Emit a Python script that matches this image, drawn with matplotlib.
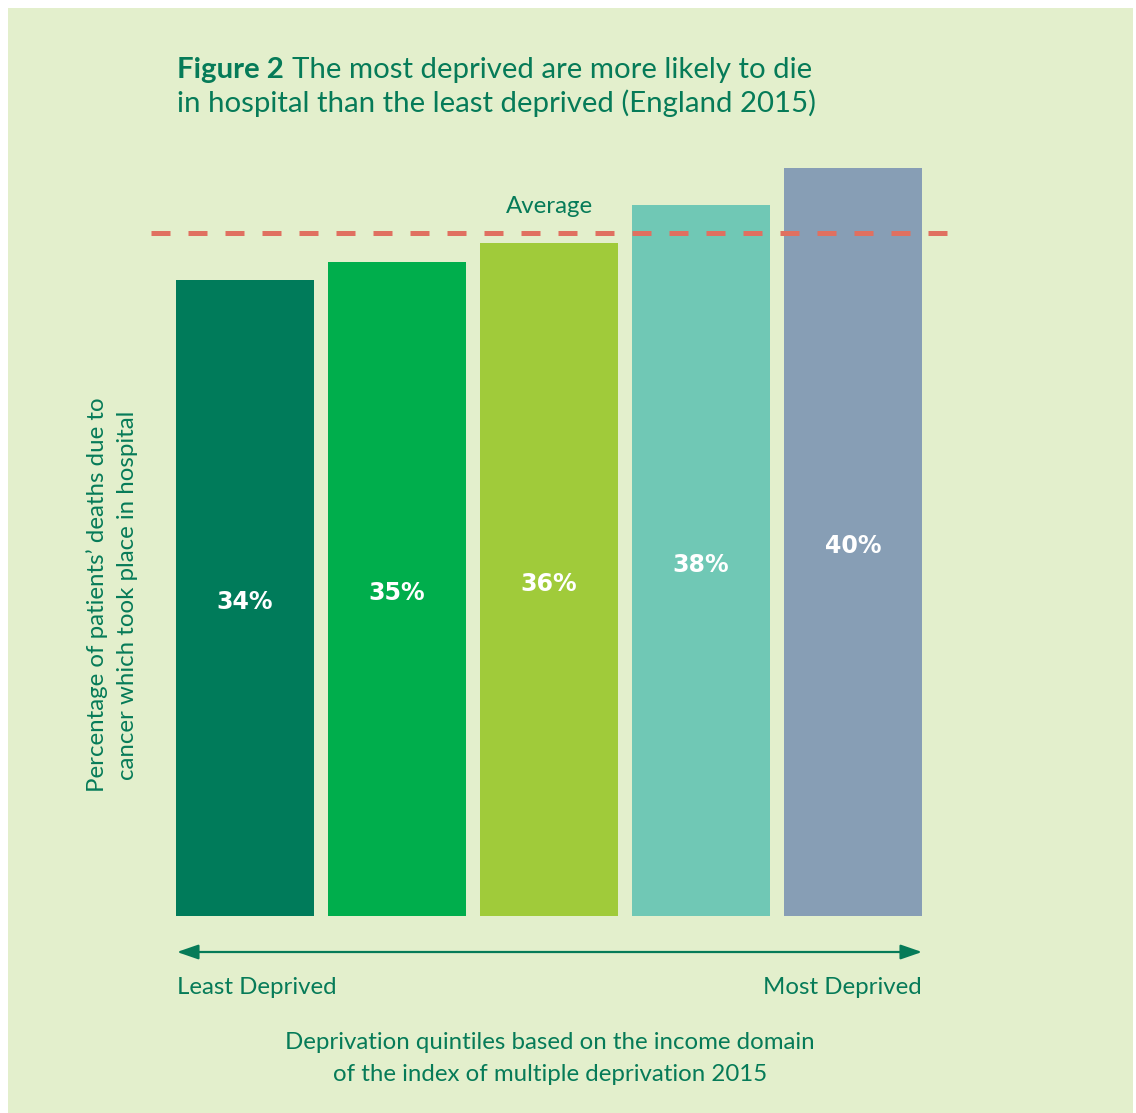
import matplotlib
matplotlib.use("Agg")
import matplotlib.pyplot as plt
from matplotlib.patches import Rectangle

# ---- data ----
quintiles = ["Q1", "Q2", "Q3", "Q4", "Q5"]
values = [34, 35, 36, 38, 40]
value_labels = ["34%", "35%", "36%", "38%", "40%"]
average = 36.5
bar_colors = ["#007B5A", "#00AE4C", "#A0CB3A", "#70C8B5", "#879EB5"]

W, H = 1136, 1113
DPI = 100
GREEN = "#067B58"
BG = "#E3EFCC"
FONT = "Lato"
FS = 17.3

fig = plt.figure(figsize=(W / DPI, H / DPI), dpi=DPI)
fig.patch.set_facecolor("white")

def fx(px):
    return px / W

def fy(py):
    return (H - py) / H

# background panel
bgp = Rectangle((fx(8), 0), fx(1133) - fx(8), fy(8), transform=fig.transFigure,
                facecolor=BG, edgecolor="none", zorder=-10)
fig.patches.append(bgp)

# axes in pixel frame
ax_left, ax_right, ax_bottom = 150, 950, 916
px_per_unit = 18.7
ymax = 42
ax_top = ax_bottom - ymax * px_per_unit
ax = fig.add_axes([fx(ax_left), fy(ax_bottom), fx(ax_right) - fx(ax_left), fy(ax_top) - fy(ax_bottom)])
ax.set_zorder(1)
ax.set_facecolor("none")
x0c, spacing = 245, 152
ax.set_xlim((ax_left - x0c) / spacing, (ax_right - x0c) / spacing)
ax.set_ylim(0, ymax)
ax.axis("off")

xs = list(range(len(quintiles)))
ax.bar(xs, values, width=138 / spacing, color=bar_colors, zorder=2)
for x, v, lab in zip(xs, values, value_labels):
    ax.annotate(lab, xy=(x, v / 2), xytext=(0, -3), textcoords="offset points",
                ha="center", va="center", color="white",
                fontsize=17, fontweight="bold", family="DejaVu Sans", zorder=4)

ax.plot([(151 - x0c) / spacing, (947 - x0c) / spacing], [average, average],
        color="#E07060", lw=3.6, linestyle=(0, (3.8, 3.6)), solid_capstyle="butt",
        dash_capstyle="butt", zorder=3, clip_on=False)
ax.text(2, average + 0.9, "Average", ha="center", va="bottom", color=GREEN,
        fontsize=FS, family=FONT)

# title
TS = 21.2
t1 = fig.text(fx(177), fy(78), "Figure 2", color=GREEN, fontsize=TS, fontweight="bold",
              family=FONT, ha="left", va="baseline")
fig.canvas.draw()
bb = t1.get_window_extent()
fig.text(bb.x1 / W + fx(8), fy(78), "The most deprived are more likely to die", color=GREEN,
         fontsize=TS, family=FONT, ha="left", va="baseline")
fig.text(fx(177), fy(112), "in hospital than the least deprived (England 2015)", color=GREEN,
         fontsize=TS, family=FONT, ha="left", va="baseline")

# y label
fig.text(fx(97), fy(595), "Percentage of patients\u2019 deaths due to", rotation=90,
         color=GREEN, fontsize=FS, family=FONT, ha="center", va="center")
fig.text(fx(128), fy(595), "cancer which took place in hospital", rotation=90,
         color=GREEN, fontsize=FS, family=FONT, ha="center", va="center")

# arrow
ax.annotate("", xy=(fx(922), fy(952)), xytext=(fx(177), fy(952)),
            xycoords=fig.transFigure, textcoords=fig.transFigure,
            arrowprops=dict(arrowstyle="<|-|>,head_length=1.3,head_width=0.45",
                            mutation_scale=10, color=GREEN, lw=1.6,
                            shrinkA=0, shrinkB=0), annotation_clip=False)

fig.text(fx(177), fy(994), "Least Deprived", color=GREEN, fontsize=FS, family=FONT,
         ha="left", va="baseline")
fig.text(fx(922), fy(994), "Most Deprived", color=GREEN, fontsize=FS, family=FONT,
         ha="right", va="baseline")

fig.text(fx(550), fy(1049), "Deprivation quintiles based on the income domain", color=GREEN,
         fontsize=FS, family=FONT, ha="center", va="baseline")
fig.text(fx(550), fy(1081), "of the index of multiple deprivation 2015", color=GREEN,
         fontsize=FS, family=FONT, ha="center", va="baseline")

fig.savefig("out.png", dpi=DPI, facecolor=fig.get_facecolor())
